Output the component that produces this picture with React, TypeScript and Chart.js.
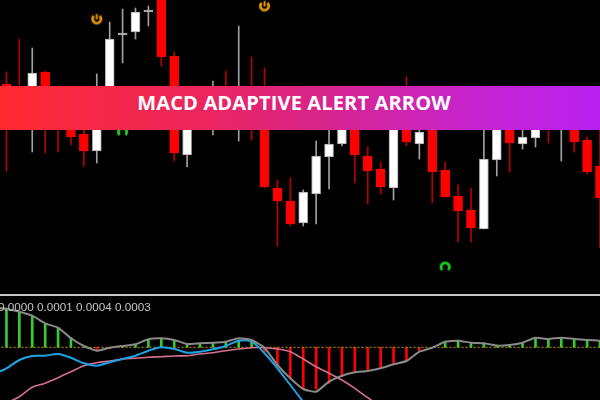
import React, { useEffect, useRef } from "react";
import { Chart, registerables } from "chart.js";

Chart.register(...registerables);

// ---- Price panel (candles), price in chart points ----
const opens = [216, 205, 188, 228, 200, 182, 166, 149, 196, 265, 268, 288, 320, 244, 145, 185, 180, 205, 182, 200, 190, 112, 99, 77, 106, 143, 156, 182, 144, 131, 112, 188, 156, 175, 130, 104, 90, 71, 140, 182, 156, 162, 185, 175, 188, 160, 134];
const highs = [228, 261, 252, 229, 208, 200, 170, 226, 278, 291, 292, 294, 325, 248, 210, 208, 219, 229, 274, 243, 232, 120, 122, 110, 159, 175, 190, 190, 153, 138, 195, 223, 175, 182, 138, 115, 112, 180, 190, 188, 174, 182, 192, 200, 195, 163, 178];
const lows = [129, 174, 148, 147, 148, 155, 134, 137, 188, 237, 261, 274, 234, 139, 133, 178, 165, 175, 159, 160, 112, 54, 74, 74, 76, 111, 154, 117, 96, 106, 100, 154, 141, 97, 103, 58, 58, 71, 124, 128, 151, 153, 157, 139, 148, 126, 52];
const closes = [204, 190, 227, 185, 182, 163, 149, 200, 261, 267, 288, 290, 243, 147, 200, 200, 195, 190, 200, 185, 113, 99, 76, 108, 144, 156, 182, 145, 129, 113, 188, 158, 168, 128, 103, 89, 72, 141, 182, 157, 163, 176, 175, 188, 158, 128, 102];

// Alert arrows (bar index, price)
const sellArrowBars = [7, 20];
const sellArrowPrices = [281, 294];
const buyArrowBars = [9, 34];
const buyArrowPrices = [168, 33];

// ---- MACD panel (values in 1e-5) ----
const histogram = [39.3, 35.6, 31.3, 23.3, 19.6, 10, 0, -3, -1.5, 0, 3, 8, 9, 7.3, 3.3, 4, 4, 5, 7.3, 5.6, -4.4, -19.4, -31.7, -41, -41.7, -36, -29.4, -25, -22.7, -20.4, -16, -12.7, -4.4, 0, 5, 6.3, 4, 3, 2.3, 3, 4, 9, 7.3, 9, 8, 7.3, 6.6];
const osmaLine = [38.3, 35.6, 31.6, 24, 19.6, 9, 1.3, -3.4, -0.4, 1.3, 3, 8, 9, 7.3, 3.3, 4, 4.6, 5.6, 9, 7.3, -0.4, -17.7, -31, -41.7, -44.4, -34.4, -28.4, -25, -23.7, -21, -17, -13.7, -4.4, -0.4, 5.6, 6.6, 4.6, 4, 1.6, 2.3, 4.6, 9.6, 8.3, 9.6, 8.3, 7.3, 6.6];
const macdLine: (number | null)[] = [-21, -12.7, -8.7, -8.4, -6.7, -10.4, -16, -18.4, -15, -11.7, -8.4, -3.4, 0, -1.7, -5.4, -4.4, -2, 1.3, 6.6, 5.6, -6, -21, -37.7, -54.4, -70, null, null, null, null, null, null, null, null, null, null, null, null, null, null, null, null, null, null, null, null, null, null];
const signalLine: (number | null)[] = [-55.7, -49.4, -40, -36, -30.4, -24.4, -18.4, -15.4, -13.7, -11.7, -11, -10, -9.4, -8.7, -8.4, -6.7, -5.4, -3.4, -1.7, -0.4, -0.4, -1.7, -4.4, -11.7, -19.4, -26, -32.7, -41, -50.4, -59.4, null, null, null, null, null, null, null, null, null, null, null, null, null, null, null, null, null];
// values of the bar just before the first visible one
const osmaPrev = 40;
const macdPrev = -27;
const signalPrev = -62;

const macdLabel = "0.0000 0.0001 0.0004 0.0003";
const bannerText = "MACD ADAPTIVE ALERT ARROW";

function makeArrowIcon(color: string, openTop: boolean): HTMLCanvasElement {
  const c = document.createElement("canvas");
  c.width = 13;
  c.height = 13;
  const ctx = c.getContext("2d")!;
  ctx.strokeStyle = color;
  ctx.lineWidth = 2.8;
  const cx = 6.5, cy = 6.5, r = 4.2;
  ctx.beginPath();
  if (openTop) ctx.arc(cx, cy, r, -Math.PI / 2 + 0.75, -Math.PI / 2 - 0.75 + 2 * Math.PI);
  else ctx.arc(cx, cy, r, Math.PI / 2 + 0.75, Math.PI / 2 - 0.75 + 2 * Math.PI);
  ctx.stroke();
  if (openTop) {
    ctx.beginPath();
    ctx.lineWidth = 2;
    ctx.moveTo(cx, 1.5);
    ctx.lineTo(cx, cy + 0.5);
    ctx.stroke();
  }
  return c;
}

const xScale = { type: "linear" as const, min: -0.5, max: 46, display: false, offset: false };

export default function App() {
  const topRef = useRef<HTMLCanvasElement>(null);
  const botRef = useRef<HTMLCanvasElement>(null);

  useEffect(() => {
    const up = closes.map((c, i) => c >= opens[i]);
    const sellIcon = makeArrowIcon("#e89800", true);
    const buyIcon = makeArrowIcon("#1ed21e", false);

    const top = new Chart(topRef.current!, {
      type: "bar",
      data: {
        datasets: [
          {
            type: "line",
            data: sellArrowBars.map((b, i) => ({ x: b, y: sellArrowPrices[i] })),
            showLine: false,
            pointStyle: sellIcon,
            order: 0,
          } as any,
          {
            type: "line",
            data: buyArrowBars.map((b, i) => ({ x: b, y: buyArrowPrices[i] })),
            showLine: false,
            pointStyle: buyIcon,
            order: 0,
          } as any,
          {
            type: "bar",
            data: opens.map((o, i) => ({ x: i, y: [o, closes[i]] })),
            backgroundColor: up.map((u) => (u ? "#ffffff" : "#ff0000")),
            borderColor: up.map((u) => (u ? "#a8a8a8" : "#ff0000")),
            borderWidth: 1,
            borderSkipped: false,
            barThickness: 9,
            grouped: false,
            order: 1,
          } as any,
          {
            type: "bar",
            data: lows.map((l, i) => ({ x: i, y: [l, highs[i]] })),
            backgroundColor: up.map((u) => (u ? "#a0a0a0" : "#b80000")),
            barThickness: 1,
            grouped: false,
            order: 2,
          } as any,
        ],
      },
      options: {
        responsive: false,
        animation: false,
        devicePixelRatio: 1,
        layout: { padding: 0, autoPadding: false },
        plugins: { legend: { display: false }, tooltip: { enabled: false } },
        scales: {
          x: xScale as any,
          y: { min: 7, max: 300, display: false },
        },
      },
    });

    const lead = (prev: number, arr: (number | null)[]) =>
      [{ x: -1, y: prev }, ...arr.map((v, i) => ({ x: i, y: v }))];

    const bot = new Chart(botRef.current!, {
      type: "bar",
      data: {
        datasets: [
          {
            type: "line",
            data: lead(osmaPrev, osmaLine),
            borderColor: "#8a8a8a",
            borderWidth: 2,
            pointRadius: 0,
            tension: 0.15,
            order: 0,
          } as any,
          {
            type: "line",
            data: lead(macdPrev, macdLine),
            borderColor: "#1fa3e6",
            borderWidth: 2,
            pointRadius: 0,
            tension: 0.3,
            order: 1,
          } as any,
          {
            type: "line",
            data: lead(signalPrev, signalLine),
            borderColor: "#d4708e",
            borderWidth: 1.6,
            pointRadius: 0,
            tension: 0.3,
            order: 2,
          } as any,
          {
            type: "line",
            data: [{ x: -1, y: 0 }, { x: 47, y: 0 }],
            borderColor: "#c89a00",
            borderWidth: 1,
            borderDash: [2, 2],
            pointRadius: 0,
            order: 3,
          } as any,
          {
            type: "bar",
            data: histogram.map((v, i) => ({ x: i, y: v })),
            backgroundColor: histogram.map((v) => (v >= 0 ? "#33cc33" : "#ff0000")),
            barThickness: 2,
            grouped: false,
            order: 4,
          } as any,
        ],
      },
      options: {
        responsive: false,
        animation: false,
        devicePixelRatio: 1,
        layout: { padding: 0, autoPadding: false },
        plugins: { legend: { display: false }, tooltip: { enabled: false } },
        scales: {
          x: xScale as any,
          y: { min: -52.7, max: 50.3, display: false },
        },
      },
    });

    return () => {
      top.destroy();
      bot.destroy();
    };
  }, []);

  return (
    <div
      style={{
        position: "fixed",
        left: 0,
        top: 0,
        width: 600,
        height: 400,
        background: "#000",
        overflow: "hidden",
      }}
    >
      <canvas ref={topRef} width={600} height={293} style={{ position: "absolute", left: 0, top: 0 }} />
      <div style={{ position: "absolute", left: 0, top: 294, width: 600, height: 2, background: "#c8c8c8" }} />
      <canvas ref={botRef} width={600} height={103} style={{ position: "absolute", left: 0, top: 297 }} />
      <div
        style={{
          position: "absolute",
          left: -2,
          top: 301,
          fontFamily: "'Liberation Sans', Arial, sans-serif",
          fontSize: "11.7px",
          lineHeight: "11.7px",
          color: "#c4c4c4",
          whiteSpace: "pre",
        }}
      >
        {macdLabel}
      </div>
      <div
        style={{
          position: "absolute",
          left: 0,
          top: 86,
          width: 600,
          height: 44,
          background:
            "linear-gradient(90deg, #ff2a30 0%, #ea2560 35%, #d6258f 55%, #c624cc 78%, #b822f0 100%)",
        }}
      >
        <div
          style={{
            position: "absolute",
            left: 0,
            top: 7,
            width: 588,
            textAlign: "center",
            fontFamily: "'Open Sans', sans-serif",
            fontWeight: 700,
            fontSize: "20px",
            lineHeight: "20px",
            letterSpacing: "0.15px",
            color: "#ffffff",
            whiteSpace: "pre",
          }}
        >
          {bannerText}
        </div>
      </div>
    </div>
  );
}
